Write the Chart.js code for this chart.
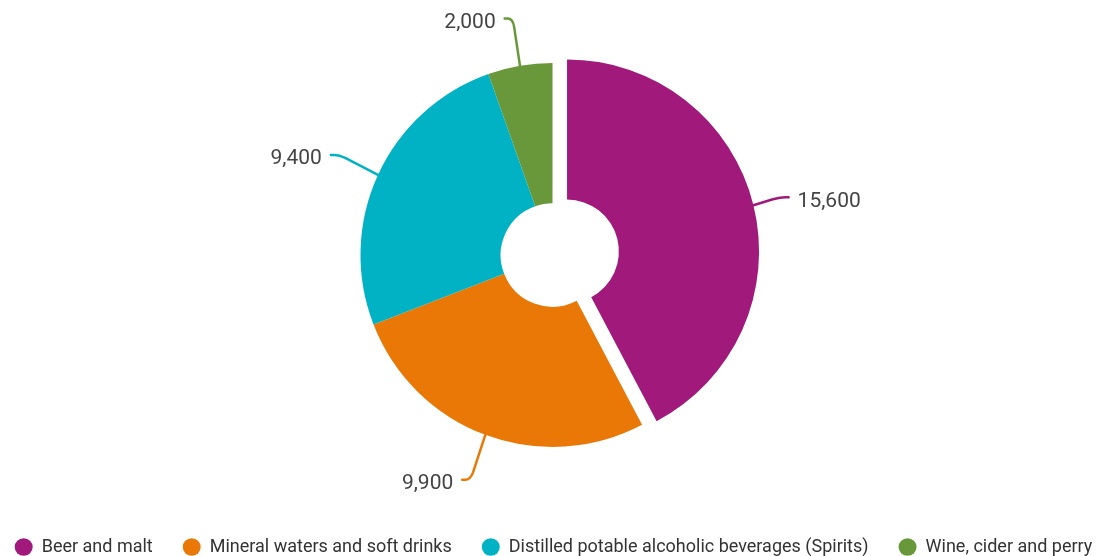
<!DOCTYPE html>
<html>
<head>
<meta charset="utf-8">
<script src="https://cdn.jsdelivr.net/npm/chart.js@4.4.1/dist/chart.umd.min.js"></script>
<style>
  html, body { margin: 0; padding: 0; background: #fff; overflow: hidden; }
  #contenedor { width: 1105px; height: 556px; }
</style>
</head>
<body>
<div id="contenedor"><canvas id="graficoBebidas"></canvas></div>
<script>
var categorias = ['Beer and malt', 'Mineral waters and soft drinks', 'Distilled potable alcoholic beverages (Spirits)', 'Wine, cider and perry'];
var valores = [15600, 9900, 9400, 2000];
var colores = ['#a0197b', '#ea7806', '#00b2c3', '#68983a'];

var SEPARACION = 15;   // desplazamiento de la porcion destacada
var GUIA_X = 43;       // cuanto sale la linea guia del borde (horizontal)
var GUIA_Y = 48;       // idem (vertical)
var TRAMO = 8;         // tramo horizontal final de la guia

// separa la primera porcion del centro (sin agrandar su radio)
var destacarPrimera = {
    id: 'destacarPrimera',
    afterDatasetUpdate: function (chart) {
        var arco = chart.getDatasetMeta(0).data[0];
        if (!arco || arco.$destacado) return;
        var dibujar = arco.draw;
        arco.draw = function (ctx) {
            var medio = (this.startAngle + this.endAngle) / 2;
            ctx.save();
            ctx.translate(Math.cos(medio) * SEPARACION, Math.sin(medio) * SEPARACION);
            dibujar.call(this, ctx);
            ctx.restore();
        };
        arco.$destacado = true;
    }
};

// lineas guia y valores fuera del anillo
var etiquetasValor = {
    id: 'etiquetasValor',
    afterDatasetsDraw: function (chart) {
        var ctx = chart.ctx;
        var meta = chart.getDatasetMeta(0);
        ctx.save();
        meta.data.forEach(function (arco, i) {
            var medio = (arco.startAngle + arco.endAngle) / 2;
            var cos = Math.cos(medio), sin = Math.sin(medio);
            var sep = i === 0 ? SEPARACION : 0;
            var r = arco.outerRadius;
            var x0 = arco.x + cos * (r + sep), y0 = arco.y + sin * (r + sep);
            var x1 = arco.x + cos * (r + GUIA_X), y1 = arco.y + sin * (r + GUIA_Y);
            var lado = cos >= 0 ? 1 : -1;

            ctx.beginPath();
            ctx.moveTo(x0, y0);
            ctx.lineTo(x1 - cos * 8, y1 - sin * 8);
            ctx.quadraticCurveTo(x1, y1, x1 + lado * 5, y1);
            ctx.lineTo(x1 + lado * TRAMO, y1);
            ctx.strokeStyle = colores[i];
            ctx.lineWidth = 2.5;
            ctx.lineCap = 'round';
            ctx.stroke();

            ctx.fillStyle = '#444';
            ctx.font = '21px Roboto';
            ctx.textAlign = lado > 0 ? 'left' : 'right';
            ctx.textBaseline = 'middle';
            ctx.fillText(valores[i].toLocaleString('en-US'), x1 + lado * (TRAMO + 9), y1 + 4);
        });
        ctx.restore();
    }
};

var graficoBebidas = new Chart(document.getElementById('graficoBebidas'), {
    type: 'doughnut',
    data: {
        labels: categorias,
        datasets: [{
            data: valores,
            backgroundColor: colores,
            borderWidth: 0,
            radius: 192,
            cutout: '27%'
        }]
    },
    options: {
        responsive: true,
        maintainAspectRatio: false,
        animation: false,
        events: [],
        layout: {
            padding: { top: 2, bottom: -10, left: -25, right: -27 }
        },
        plugins: {
            tooltip: { enabled: false },
            legend: {
                position: 'bottom',
                labels: {
                    usePointStyle: true,
                    pointStyle: 'circle',
                    pointStyleWidth: 18,
                    boxHeight: 12.5,
                    padding: 30,
                    color: '#333',
                    font: { family: 'Roboto', size: 18 }
                }
            }
        }
    },
    plugins: [destacarPrimera, etiquetasValor]
});
</script>
</body>
</html>
